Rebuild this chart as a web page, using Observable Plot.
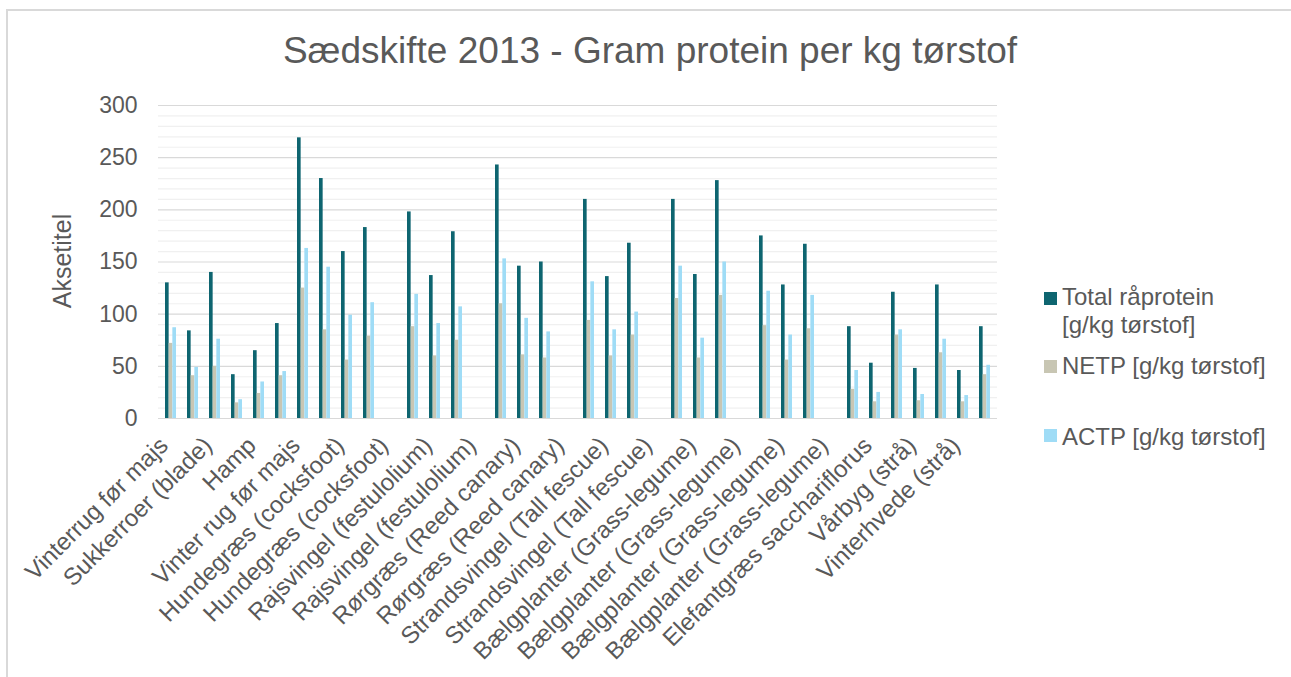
<!DOCTYPE html>
<html><head><meta charset="utf-8">
<script src="https://cdn.jsdelivr.net/npm/d3@7"></script>
<script src="https://cdn.jsdelivr.net/npm/@observablehq/plot@0.6"></script>
<style>
html,body{margin:0;padding:0;background:#fff;overflow:hidden}
#chart{position:relative;width:1291px;height:677px;font-family:"Liberation Sans",Arial,sans-serif;color:#595959;overflow:hidden}
#frame{position:absolute;left:6px;top:9px;width:1400px;height:800px;border:2px solid #d9d9d9;box-sizing:border-box}
#title{position:absolute;left:650px;top:32px;transform:translateX(-50%);font-size:37px;line-height:37px;white-space:nowrap}
#ytitle{position:absolute;left:62px;top:261px;transform:translate(-50%,-50%) rotate(-90deg);font-size:25px;line-height:25px;white-space:nowrap}
#plot{position:absolute;left:0;top:0}
.lg-sw{position:absolute;width:13px;height:13px}
.lg-tx{position:absolute;font-size:24px;line-height:28px;width:206px}
</style></head><body>
<div id="chart">
  <div id="frame"></div>
  <div id="plot"></div>
  <div id="title"></div>
  <div id="ytitle"></div>
  <div id="legend"></div>
</div>
<script>
const titleText = "Sædskifte 2013 - Gram protein per kg tørstof";
const yTitle = "Aksetitel";
// 38 categories; Excel only shows every other label
const categories = [
  "Vinterrug før majs", "", "Sukkerroer (blade)", "", "Hamp", "", "Vinter rug før majs", "",
  "Hundegræs (cocksfoot)", "", "Hundegræs (cocksfoot)", "", "Rajsvingel (festulolium)", "",
  "Rajsvingel (festulolium)", "", "Rørgræs (Reed canary)", "", "Rørgræs (Reed canary)", "",
  "Strandsvingel (Tall fescue)", "", "Strandsvingel (Tall fescue)", "", "Bælgplanter (Grass-legume)", "",
  "Bælgplanter (Grass-legume)", "", "Bælgplanter (Grass-legume)", "", "Bælgplanter (Grass-legume)", "",
  "Elefantgræs sacchariflorus", "", "Vårbyg (strå)", "", "Vinterhvede (strå)", ""
];
const totalProtein = [130,84,140,42,65,91,269,230,160,183,null,198,137,179,null,243,146,150,null,210,136,168,null,210,138,228,null,175,128,167,null,88,53,121,48,128,46,88];
const netp =         [72,41,50,15,24,41,125,85,56,79,null,88,60,75,null,110,61,58,null,94,60,80,null,115,58,118,null,89,56,86,null,28,16,80,17,63,16,42];
const actp =         [87,49,76,18,35,45,163,145,99,111,null,119,91,107,null,153,96,83,null,131,85,102,null,146,77,150,null,122,80,118,null,46,25,85,23,76,22,51];
const seriesNames = ["Total råprotein [g/kg tørstof]", "NETP [g/kg tørstof]", "ACTP [g/kg tørstof]"];
const seriesColors = ["#0e6570", "#c8c6b3", "#9fdcf6"];
const yTicks = [0, 50, 100, 150, 200, 250, 300];
const yMinorTicks = d3.range(0, 301, 10).filter(v => v % 50 !== 0);

const seriesValues = [totalProtein, netp, actp];
const rows = [];
categories.forEach((c, i) => {
  seriesValues.forEach((vals, k) => {
    if (vals[i] != null) rows.push({i, k, value: vals[i]});
  });
});

const third = 11.03 / 3;
const barMarks = seriesValues.map((vals, k) =>
  Plot.barY(rows.filter(d => d.k === k), {
    x: "i", y: "value", fill: seriesColors[k],
    insetLeft: k * third, insetRight: (2 - k) * third
  })
);

const chart = Plot.plot({
  width: 1291, height: 677,
  marginLeft: 158, marginRight: 294, marginTop: 105, marginBottom: 259,
  style: {fontFamily: '"Liberation Sans", Arial, sans-serif', color: "#595959", background: "transparent", overflow: "visible"},
  x: {type: "band", domain: d3.range(categories.length), paddingInner: 0.5, paddingOuter: 0.25, axis: null, label: null},
  y: {domain: [0, 300], axis: null, label: null},
  marks: [
    Plot.ruleY(yMinorTicks, {stroke: "#f0f0f0", strokeWidth: 1.2}),
    Plot.ruleY(yTicks, {stroke: "#d9d9d9", strokeWidth: 1.2}),
    ...barMarks,
    Plot.axisY({ticks: yTicks, tickSize: 0, tickPadding: 21, fontSize: 23, fill: "#595959", label: null}),
    Plot.axisX({
      ticks: d3.range(0, categories.length, 2),
      tickFormat: i => categories[i],
      tickRotate: -45, tickSize: 0, tickPadding: 14, dx: -7, dy: 9, fontSize: 24, fill: "#595959", label: null
    })
  ]
});
document.getElementById("plot").appendChild(chart);
document.getElementById("title").textContent = titleText;
document.getElementById("ytitle").textContent = yTitle;

const legendPos = [{sy: 291.5, ty: 283}, {sy: 360, ty: 352}, {sy: 429, ty: 423}];
const legend = document.getElementById("legend");
seriesNames.forEach((name, k) => {
  const sw = document.createElement("div");
  sw.className = "lg-sw";
  sw.style.left = "1044px"; sw.style.top = legendPos[k].sy + "px";
  sw.style.background = seriesColors[k];
  legend.appendChild(sw);
  const tx = document.createElement("div");
  tx.className = "lg-tx";
  tx.style.left = "1062px"; tx.style.top = legendPos[k].ty + "px";
  tx.textContent = name;
  legend.appendChild(tx);
});
</script>
</body></html>
